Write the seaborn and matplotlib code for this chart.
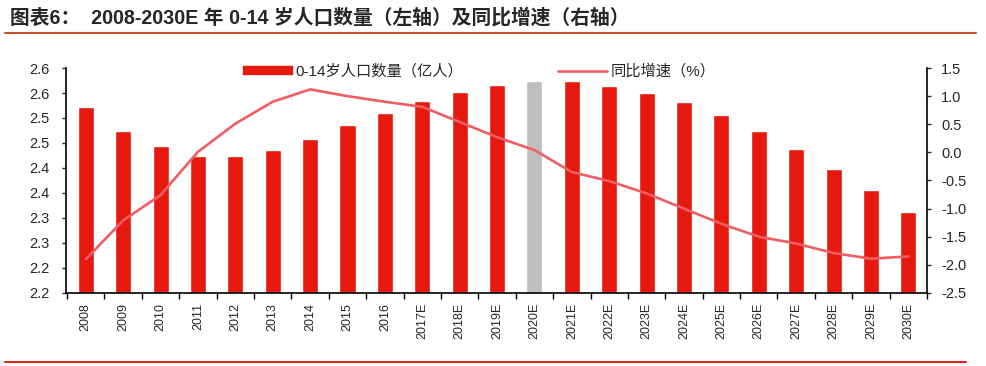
import numpy as np
import matplotlib
matplotlib.use('Agg')
import matplotlib.pyplot as plt
import seaborn as sns
from matplotlib.lines import Line2D
from matplotlib.patches import Patch

# data
years = ['2008', '2009', '2010', '2011', '2012', '2013', '2014', '2015', '2016',
         '2017E', '2018E', '2019E', '2020E', '2021E', '2022E', '2023E', '2024E',
         '2025E', '2026E', '2027E', '2028E', '2029E', '2030E']
population = [2.571, 2.523, 2.493, 2.474, 2.474, 2.486, 2.508, 2.535, 2.559,
              2.583, 2.603, 2.617, 2.625, 2.624, 2.614, 2.601, 2.581,
              2.556, 2.524, 2.487, 2.448, 2.406, 2.361]
growth = [-1.90, -1.21, -0.76, 0.01, 0.51, 0.90, 1.12, 1.00, 0.90,
          0.81, 0.54, 0.27, 0.04, -0.35, -0.51, -0.73, -1.00,
          -1.27, -1.50, -1.62, -1.79, -1.89, -1.85]
left_tick_values = [2.2, 2.25, 2.3, 2.35, 2.4, 2.45, 2.5, 2.55, 2.6, 2.65]
left_tick_labels = ['2.2', '2.2', '2.3', '2.3', '2.4', '2.4', '2.5', '2.5', '2.6', '2.6']
highlight_year = '2020E'

bar_label = '0-14岁人口数量（亿人）'
line_label = '同比增速（%）'
title = '图表6：  2008-2030E 年 0-14 岁人口数量（左轴）及同比增速（右轴）'

bar_red = '#E5190D'
bar_gray = '#BFBFBF'
line_color = '#F25C63'

sns.set_style('white')
plt.rcParams['font.family'] = ['Liberation Sans', 'Noto Sans CJK SC', 'DejaVu Sans']

fig = plt.figure(figsize=(9.86, 3.66), dpi=100)
ax = fig.add_axes([0.0669, 0.1995, 0.8733, 0.6147])

bar_colors = [bar_gray if y == highlight_year else bar_red for y in years]
sns.barplot(x=years, y=population, hue=years, palette=bar_colors, width=0.43,
            saturation=1, legend=False, ax=ax)
ax.set_ylim(2.2, 2.65)
ax.set_xlim(-0.53, 22.5)
ax.set_yticks(left_tick_values)
ax.set_yticklabels(left_tick_labels)

ax2 = ax.twinx()
sns.lineplot(x=np.arange(len(years)), y=growth, ax=ax2, color=line_color, lw=1.9)
ax2.set_ylim(-2.5, 1.5)
right_ticks = np.linspace(-2.5, 1.5, 9)
ax2.set_yticks(right_ticks)
ax2.set_yticklabels([f'{v:.1f}' for v in right_ticks])
ax2.set_xlim(-0.53, 22.5)

# x axis: labels at bar centres, tick marks between bars
ax.set_xticks(range(len(years)))
ax.set_xticklabels(years, rotation=90, fontsize=9)
ax.set_xticks(np.arange(-0.5, len(years), 1), minor=True)
ax.tick_params(axis='x', which='major', length=0, pad=7)
ax.tick_params(axis='x', which='minor', bottom=True, length=4, width=1, direction='out', color='black')
ax.tick_params(axis='y', left=True, length=3, width=1, direction='out', labelsize=10.5, pad=9)
ax2.tick_params(axis='y', right=True, length=3, width=1, direction='out', labelsize=10.5, pad=7)
ax.set_xlabel('')
ax.set_ylabel('')
ax2.set_ylabel('')

for a in (ax, ax2):
    a.spines['top'].set_visible(False)
    for s in ('left', 'right', 'bottom'):
        a.spines[s].set_color('black')
        a.spines[s].set_linewidth(1.2)
ax2.spines['left'].set_visible(False)
ax2.spines['bottom'].set_visible(False)
ax.spines['right'].set_visible(False)

leg_kw = dict(loc='center left', frameon=False, handlelength=3.2, handleheight=0.42,
              handletextpad=0.25, borderaxespad=0, borderpad=0, fontsize=11)
leg1 = ax2.legend(handles=[Patch(color=bar_red)], labels=[bar_label],
                  bbox_to_anchor=(0.2056, 0.985), **leg_kw)
ax2.add_artist(leg1)
ax2.legend(handles=[Line2D([], [], color=line_color, lw=1.9)], labels=[line_label],
           bbox_to_anchor=(0.571, 0.985), **leg_kw)

fig.text(0.01, 1 - 18 / 366, title, fontsize=14.2, fontweight='bold', va='center')
fig.add_artist(Line2D([0.005, 0.99], [1 - 33 / 366] * 2, transform=fig.transFigure,
                      color='#C8502E', lw=1.5))
fig.add_artist(Line2D([0.005, 0.98], [1 - 362 / 366] * 2, transform=fig.transFigure,
                      color='#E0231A', lw=1.5))

fig.savefig('out.png', dpi=100)
